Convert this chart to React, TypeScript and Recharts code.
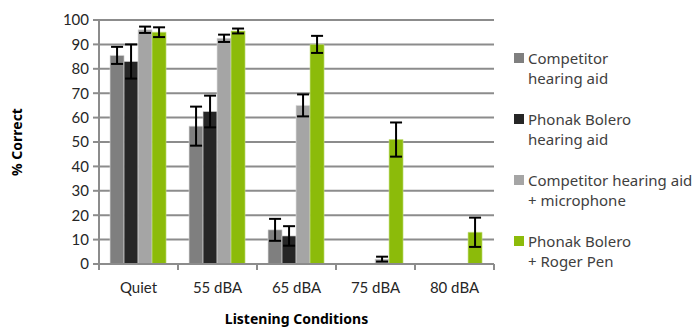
import { BarChart, Bar, XAxis, YAxis, CartesianGrid, ErrorBar, Label } from "recharts";

const conditions = ["Quiet", "55 dBA", "65 dBA", "75 dBA", "80 dBA"];

const seriesNames = [
  ["Competitor", "hearing aid"],
  ["Phonak Bolero", "hearing aid"],
  ["Competitor hearing aid", "+ microphone"],
  ["Phonak Bolero", "+ Roger Pen"],
];
const seriesColors = ["#7f7f7f", "#262626", "#a5a5a5", "#8cbb0a"];

const competitor = [85.5, 56.5, 14, null, null];
const competitorErr = [3.5, 8, 4.5, null, null];
const bolero = [83, 62.5, 11.5, null, null];
const boleroErr = [7, 6.5, 4, null, null];
const competitorMic = [96, 92.5, 65, 2, null];
const competitorMicErr = [1.3, 1.5, 4.5, 1, null];
const boleroRoger = [95, 95.5, 90, 51, 13];
const boleroRogerErr = [2, 1, 3.5, 7, 6];

const yTicks = [0, 10, 20, 30, 40, 50, 60, 70, 80, 90, 100];

const data = conditions.map((c, i) => ({
  name: c,
  s0: competitor[i],
  e0: competitorErr[i],
  s1: bolero[i],
  e1: boleroErr[i],
  s2: competitorMic[i],
  e2: competitorMicErr[i],
  s3: boleroRoger[i],
  e3: boleroRogerErr[i],
}));

const W = 694;
const H = 329;
const M = { top: 20, right: 200, bottom: 22, left: 39 };
const Y_W = 60;
const X_H = 43;
const plotW = W - M.left - M.right - Y_W;
const band = plotW / conditions.length;

const tickFont = "Lato, 'Open Sans', sans-serif";
const textFont = "'Noto Sans', sans-serif";

function XTick(props: any) {
  const { x, y, payload, index } = props;
  const left = x - band / 2;
  const right = x + band / 2;
  return (
    <g>
      <line x1={left} x2={left} y1={y - 8} y2={y - 2} stroke="#8c8c8c" strokeWidth={2} />
      {index === conditions.length - 1 && (
        <line x1={right} x2={right} y1={y - 8} y2={y - 2} stroke="#8c8c8c" strokeWidth={2} />
      )}
      <text x={x} y={y + 21} textAnchor="middle" fontSize={15} fontFamily={tickFont} fill="#262626">
        {payload.value}
      </text>
    </g>
  );
}

export default function App() {
  return (
    <div style={{ position: "absolute", left: 0, top: 0, width: W, height: H, background: "#fff" }}>
      <BarChart width={W} height={H} data={data} margin={M} barCategoryGap="14%" barGap={0}>
        <CartesianGrid vertical={false} stroke="#8c8c8c" strokeWidth={2} />
        <XAxis
          dataKey="name"
          height={X_H}
          axisLine={{ stroke: "#8c8c8c", strokeWidth: 2 }}
          tickLine={false}
          tick={<XTick />}
          interval={0}
        >
          <Label
            value="Listening Conditions"
            position="bottom"
            offset={7}
            style={{ fontFamily: textFont, fontWeight: 700, fontSize: 14, fill: "#000" }}
          />
        </XAxis>
        <YAxis
          width={Y_W}
          domain={[0, 100]}
          ticks={yTicks}
          interval={0}
          axisLine={{ stroke: "#8c8c8c", strokeWidth: 2 }}
          tickLine={{ stroke: "#8c8c8c", strokeWidth: 2 }}
          tickSize={6}
          tickMargin={4}
          tick={{ fontSize: 15, fontFamily: tickFont, fill: "#262626" }}
        >
          <Label
            value="% Correct"
            angle={-90}
            position="insideLeft"
            offset={-22}
            style={{ textAnchor: "middle", fontFamily: textFont, fontWeight: 700, fontSize: 14, fill: "#000" }}
          />
        </YAxis>
        {seriesColors.map((col, i) => (
          <Bar key={i} dataKey={`s${i}`} fill={col} stroke={i === 3 ? "#c6df85" : "#d9d9d9"} strokeWidth={0.6} isAnimationActive={false}>
            <ErrorBar dataKey={`e${i}`} width={6} stroke="#000" strokeWidth={2} direction="y" />
          </Bar>
        ))}
      </BarChart>
      <div style={{ position: "absolute", left: 514, top: 48, fontFamily: textFont, fontSize: 15, color: "#404040", lineHeight: "20px" }}>
        {seriesNames.map((n, i) => (
          <div key={i} style={{ display: "flex", marginBottom: 21 }}>
            <div style={{ width: 10, height: 10, background: seriesColors[i], marginTop: 5, marginRight: 4 }} />
            <div>
              {n.map((l, j) => (
                <div key={j}>{l}</div>
              ))}
            </div>
          </div>
        ))}
      </div>
    </div>
  );
}
